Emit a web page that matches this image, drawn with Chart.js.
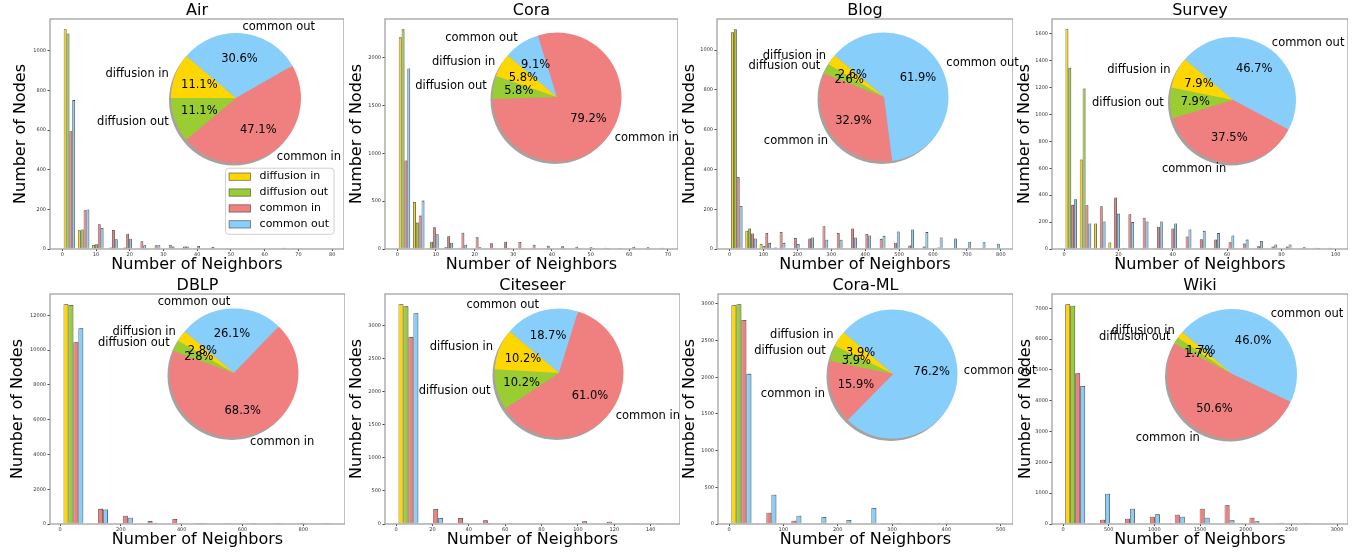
<!DOCTYPE html>
<html>
<head>
<meta charset="utf-8">
<title>Neighbor distributions</title>
<script src="https://cdn.jsdelivr.net/npm/chart.js@4/dist/chart.umd.min.js"></script>
<style>
  html, body { margin: 0; padding: 0; background: #fff; }
  #page { position: relative; width: 1369px; height: 554px; overflow: hidden; }
  .panel, .pie { position: absolute; }
</style>
</head>
<body>
<div id="page"></div>
<script>
// series order everywhere: diffusion in, diffusion out, common in, common out
var seriesNames = ["diffusion in", "diffusion out", "common in", "common out"];
var seriesColors = ["#FFD700", "#9ACD32", "#F08080", "#87CEFA"];

var airBins = [2.11, 6.32, 10.53, 14.74, 18.95, 23.16, 27.37, 31.58, 35.79, 40.00, 44.21, 48.42, 52.63, 56.84, 61.05, 65.26, 69.47, 73.68, 77.89];
var airDiffIn = [1108, 94, 20, 3, 2, 0, 0, 0, 0, 0, 0, 0, 0, 0, 0, 0, 0, 0, 0];
var airDiffOut = [1087, 98, 24, 7, 7, 1, 0, 0, 0, 0, 0, 0, 0, 0, 0, 0, 0, 0, 0];
var airCommonIn = [594, 195, 125, 96, 77, 39, 19, 22, 13, 15, 10, 5, 3, 3, 2, 6, 1, 0, 1];
var airCommonOut = [751, 199, 106, 49, 52, 19, 19, 12, 12, 3, 3, 2, 2, 1, 1, 1, 1, 0, 1];
var airShares = [11.1, 11.1, 47.1, 30.6];

var coraBins = [1.84, 5.53, 9.21, 12.89, 16.58, 20.26, 23.95, 27.63, 31.32, 35.00, 38.68, 42.37, 46.05, 49.74, 53.42, 57.11, 60.79, 64.47, 68.16];
var coraDiffIn = [2213, 492, 3, 0, 0, 0, 0, 0, 0, 0, 0, 0, 0, 0, 0, 0, 0, 0, 0];
var coraDiffOut = [2297, 276, 77, 17, 14, 3, 0, 0, 0, 0, 0, 0, 0, 0, 0, 0, 0, 0, 0];
var coraCommonIn = [925, 349, 227, 133, 171, 122, 59, 77, 73, 45, 35, 28, 24, 17, 14, 10, 24, 17, 14];
var coraCommonOut = [1888, 506, 154, 66, 45, 17, 3, 10, 3, 3, 2, 2, 1, 1, 1, 0, 0, 0, 0];
var coraShares = [5.8, 5.8, 79.2, 9.1];

var blogBins = [21.1, 63.2, 105.4, 147.6, 189.7, 231.9, 274.0, 316.2, 358.4, 400.5, 442.7, 484.8, 527.0, 569.2, 611.3, 653.5, 695.6, 737.8, 780.0];
var blogDiffIn = [1089, 92, 25, 7, 2, 1, 0, 0, 0, 0, 0, 0, 0, 0, 0, 0, 0, 0, 0];
var blogDiffOut = [1104, 103, 15, 3, 2, 1, 0, 0, 0, 0, 0, 0, 0, 0, 0, 0, 0, 0, 0];
var blogCommonIn = [362, 78, 81, 86, 56, 53, 114, 81, 103, 76, 51, 32, 17, 12, 7, 2, 5, 0, 0];
var blogCommonOut = [216, 53, 31, 31, 25, 58, 47, 47, 58, 68, 66, 88, 98, 85, 58, 53, 37, 34, 27];
var blogShares = [2.6, 2.6, 32.9, 61.9];

var surveyBins = [2.63, 7.89, 13.16, 18.42, 23.68, 28.95, 34.21, 39.47, 44.74, 50.00, 55.26, 60.53, 65.79, 71.05, 76.32, 81.58, 86.84, 92.11, 97.37];
var surveyDiffIn = [1633, 665, 190, 48, 8, 0, 0, 0, 0, 0, 0, 0, 0, 0, 0, 0, 0, 0, 0];
var surveyDiffOut = [1347, 1193, 0, 0, 0, 0, 0, 0, 0, 0, 0, 0, 0, 0, 0, 0, 0, 0, 0];
var surveyCommonIn = [328, 325, 318, 383, 258, 233, 165, 153, 93, 73, 70, 50, 40, 20, 18, 18, 5, 10, 10];
var surveyCommonOut = [370, 190, 205, 263, 200, 205, 205, 190, 145, 135, 118, 100, 70, 60, 33, 33, 13, 8, 3];
var surveyShares = [7.9, 7.9, 37.5, 46.7];

var dblpBins = [44.0, 125.3, 206.6, 287.9, 369.2, 450.5, 531.8, 613.1, 694.4, 775.7, 857.0];
var dblpDiffIn = [12632, 0, 0, 0, 0, 0, 0, 0, 0, 0, 0];
var dblpDiffOut = [12593, 0, 0, 0, 0, 0, 0, 0, 0, 0, 0];
var dblpCommonIn = [10450, 870, 478, 172, 290, 60, 40, 25, 15, 10, 10];
var dblpCommonOut = [11254, 830, 364, 77, 19, 5, 3, 2, 1, 1, 1];
var dblpShares = [2.8, 2.8, 68.3, 26.1];

var citeseerBins = [6.82, 20.45, 34.09, 47.73, 61.36, 75.00, 88.64, 102.27, 115.91, 129.55, 143.18];
var citeseerDiffIn = [3322, 3, 0, 0, 0, 0, 0, 0, 0, 0, 0];
var citeseerDiffOut = [3291, 15, 0, 0, 0, 0, 0, 0, 0, 0, 0];
var citeseerCommonIn = [2828, 226, 91, 55, 15, 3, 0, 40, 35, 10, 5];
var citeseerCommonOut = [3186, 91, 20, 15, 3, 0, 0, 0, 0, 0, 0];
var citeseerShares = [10.2, 10.2, 61.0, 18.7];

var coraMlBins = [22.7, 68.7, 114.7, 160.7, 206.7, 252.7, 298.7, 344.7, 390.7, 436.7, 482.7];
var coraMlDiffIn = [2982, 5, 0, 0, 0, 0, 0, 0, 0, 0, 0];
var coraMlDiffOut = [2996, 2, 0, 0, 0, 0, 0, 0, 0, 0, 0];
var coraMlCommonIn = [2783, 154, 45, 3, 0, 0, 0, 5, 0, 0, 0];
var coraMlCommonOut = [2047, 400, 113, 95, 55, 218, 14, 3, 1, 3, 0];
var coraMlShares = [3.9, 3.9, 15.9, 76.2];

var wikiBins = [133.0, 405.6, 678.2, 950.8, 1223.4, 1496.0, 1768.6, 2041.2, 2313.8, 2586.4, 2859.0];
var wikiDiffIn = [7130, 10, 0, 0, 0, 0, 0, 0, 0, 0, 0];
var wikiDiffOut = [7087, 20, 0, 0, 0, 0, 0, 0, 0, 0, 0];
var wikiCommonIn = [4894, 140, 173, 238, 302, 497, 605, 205, 5, 0, 0];
var wikiCommonOut = [4483, 983, 497, 313, 238, 205, 119, 86, 43, 30, 20];
var wikiShares = [1.7, 1.7, 50.6, 46.0];

var FONT = "'DejaVu Sans', sans-serif";
Chart.defaults.font.family = FONT;
Chart.defaults.color = "#000";

// layout of each subplot: axes box [left, top, right, bottom], axis limits, inset pie
var panels = [
  {title: "Air", bins: airBins, counts: [airDiffIn, airDiffOut, airCommonIn, airCommonOut], shares: airShares,
   xr: [-3.64, 83.5, 10], yr: [1160, 200], box: [50, 19, 344, 249], yPad: 5.1, pie: [236.3, 97.5, 65], legend: true},
  {title: "Cora", bins: coraBins, counts: [coraDiffIn, coraDiffOut, coraCommonIn, coraCommonOut], shares: coraShares,
   xr: [-3.19, 72.6, 10], yr: [2405, 500], box: [385, 19, 678, 249], yPad: 6.4, pie: [556.8, 96.7, 64.5]},
  {title: "Blog", bins: blogBins, counts: [blogDiffIn, blogDiffOut, blogCommonIn, blogCommonOut], shares: blogShares,
   xr: [-37.2, 836, 100], yr: [1156, 200], box: [717, 19, 1013, 249], yPad: 7.1, pie: [883.8, 97.2, 64.5]},
  {title: "Survey", bins: surveyBins, counts: [surveyDiffIn, surveyDiffOut, surveyCommonIn, surveyCommonOut], shares: surveyShares,
   xr: [-4.43, 104.5, 20], yr: [1709, 200], box: [1052, 19, 1348, 249], yPad: 7.4, pie: [1232.8, 99.5, 63]},
  {title: "DBLP", bins: dblpBins, counts: [dblpDiffIn, dblpDiffOut, dblpCommonIn, dblpCommonOut], shares: dblpShares,
   xr: [-32.9, 937, 200], yr: [13225, 2000], box: [50, 294, 345, 524], yPad: 2.7, pie: [234.2, 373.3, 64.5]},
  {title: "Citeseer", bins: citeseerBins, counts: [citeseerDiffIn, citeseerDiffOut, citeseerCommonIn, citeseerCommonOut], shares: citeseerShares,
   xr: [-6.05, 156.1, 20], yr: [3478, 500], box: [385, 294, 680, 524], yPad: 6.4, pie: [558.8, 372.5, 64.5]},
  {title: "Cora-ML", bins: coraMlBins, counts: [coraMlDiffIn, coraMlDiffOut, coraMlCommonIn, coraMlCommonOut], shares: coraMlShares,
   xr: [-20.3, 522.6, 100], yr: [3136, 500], box: [718, 294, 1013, 524], yPad: 6.4, pie: [892.8, 374, 64.5]},
  {title: "Wiki", bins: wikiBins, counts: [wikiDiffIn, wikiDiffOut, wikiCommonIn, wikiCommonOut], shares: wikiShares,
   xr: [-120.8, 3120, 500], yr: [7465, 1000], box: [1052, 294, 1348, 524], yPad: 7.9, pie: [1232.2, 373.7, 65]}
];

var Y_AXIS_W = 44, X_AXIS_H = 26, TOP_H = 19;

// soft grey drop shadow behind the bars, as in the original figure
var barShadowPlugin = {
  id: "barShadow",
  beforeDatasetsDraw: function (chart) {
    var ctx = chart.ctx;
    ctx.save();
    ctx.shadowColor = "rgba(0,0,0,0.22)";
    ctx.shadowOffsetX = 1.5;
    ctx.shadowOffsetY = -1.2;
    ctx.shadowBlur = 0;
  },
  afterDatasetsDraw: function (chart) {
    chart.ctx.restore();
  }
};

var framePlugin = {
  id: "frame",
  afterDatasetsDraw: function (chart) {
    var a = chart.chartArea, ctx = chart.ctx;
    ctx.save();
    ctx.strokeStyle = "#9a9a9a";
    ctx.lineWidth = 1.2;
    ctx.strokeRect(a.left, a.top, a.right - a.left, a.bottom - a.top);
    ctx.restore();
  }
};

var boxLegendPlugin = {
  id: "boxLegend",
  afterDraw: function (chart, args, opts) {
    if (!opts || !opts.show) return;
    var ctx = chart.ctx, a = chart.chartArea, sets = chart.data.datasets;
    var rowH = 15.9;
    ctx.save();
    ctx.font = "11px " + FONT;
    var tw = 0;
    sets.forEach(function (d) { tw = Math.max(tw, ctx.measureText(d.label).width); });
    var w = 34 + tw + 5, h = 18.4 + rowH * (sets.length - 1);
    var x0 = a.right - 10 - w, y0 = a.bottom - 14.7 - h;
    ctx.beginPath();
    ctx.roundRect(x0, y0, w, h, 3);
    ctx.fillStyle = "rgba(255,255,255,0.85)";
    ctx.fill();
    ctx.strokeStyle = "#d0d0d0";
    ctx.lineWidth = 1;
    ctx.stroke();
    sets.forEach(function (d, i) {
      var cy = y0 + 8.4 + i * rowH;
      ctx.fillStyle = d.backgroundColor;
      ctx.fillRect(x0 + 3.5, cy - 3.6, 21.5, 7.3);
      ctx.strokeStyle = "rgba(60,60,60,0.7)";
      ctx.lineWidth = 0.8;
      ctx.strokeRect(x0 + 3.5, cy - 3.6, 21.5, 7.3);
      ctx.fillStyle = "#000";
      ctx.textBaseline = "middle";
      ctx.textAlign = "left";
      ctx.fillText(d.label, x0 + 34, cy);
    });
    ctx.restore();
  }
};

var pieTextPlugin = {
  id: "pieText",
  beforeDatasetsDraw: function (chart) {
    var arc = chart.getDatasetMeta(0).data[0];
    if (!arc) return;
    var ctx = chart.ctx;
    ctx.save();
    ctx.fillStyle = "rgba(95,85,80,0.55)";
    ctx.beginPath();
    ctx.arc(arc.x - 2, arc.y + 2.5, arc.outerRadius, 0, 2 * Math.PI);
    ctx.fill();
    ctx.restore();
  },
  afterDatasetsDraw: function (chart) {
    var meta = chart.getDatasetMeta(0), ds = chart.data.datasets[0], ctx = chart.ctx;
    ctx.save();
    ctx.font = "11.5px " + FONT;
    ctx.fillStyle = "#000";
    ctx.textBaseline = "middle";
    meta.data.forEach(function (arc, i) {
      var mid = (arc.startAngle + arc.endAngle) / 2, r = arc.outerRadius;
      var c = Math.cos(mid), s = Math.sin(mid);
      ctx.textAlign = c > 0 ? "left" : "right";
      ctx.fillText(chart.data.labels[i], arc.x + c * r * 1.1, arc.y + s * r * 1.1);
      ctx.textAlign = "center";
      ctx.fillText(ds.data[i].toFixed(1) + "%", arc.x + c * r * 0.6, arc.y + s * r * 0.6);
    });
    ctx.restore();
  }
};

var page = document.getElementById("page");

function addCanvas(cls, left, top, width, height) {
  var wrap = document.createElement("div");
  wrap.className = cls;
  wrap.style.left = left + "px";
  wrap.style.top = top + "px";
  wrap.style.width = width + "px";
  wrap.style.height = height + "px";
  var cv = document.createElement("canvas");
  wrap.appendChild(cv);
  page.appendChild(wrap);
  return cv;
}

function tickFont() { return {family: FONT, size: 5}; }
function plainTick(v) { return String(v); }

// ticks every `step` inside the axis limits, like matplotlib's locator
function stepTicks(step) {
  return function (scale) {
    var out = [];
    var first = Math.ceil(scale.min / step);
    for (var k = first; k * step <= scale.max; k++) out.push({value: k * step});
    scale.ticks = out;
  };
}

function makeBars(p) {
  var L = p.box[0], T = p.box[1], R = p.box[2], B = p.box[3];
  var cv = addCanvas("panel", L - Y_AXIS_W, T - TOP_H, R - L + Y_AXIS_W, B - T + TOP_H + X_AXIS_H);
  new Chart(cv, {
    type: "bar",
    data: {
      datasets: p.counts.map(function (c, k) {
        return {
          label: seriesNames[k],
          data: p.bins.map(function (b, i) { return {x: b, y: c[i]}; }),
          backgroundColor: seriesColors[k],
          borderColor: "rgba(35,35,35,0.8)",
          borderWidth: 0.8,
          categoryPercentage: 0.8,
          barPercentage: 1.0,
          xAxisID: "x",
          yAxisID: "y"
        };
      })
    },
    options: {
      responsive: true,
      maintainAspectRatio: false,
      animation: false,
      events: [],
      layout: {padding: 0},
      plugins: {
        legend: {display: false},
        tooltip: {enabled: false},
        boxLegend: {show: !!p.legend}
      },
      scales: {
        x: {
          type: "linear", position: "bottom", offset: false,
          min: p.xr[0], max: p.xr[1],
          afterBuildTicks: stepTicks(p.xr[2]),
          afterFit: function (s) { s.height = X_AXIS_H; },
          ticks: {font: tickFont(), color: "#333", padding: 1, maxRotation: 0, autoSkip: false, callback: plainTick},
          grid: {offset: false, drawOnChartArea: false, tickLength: 2, color: "#444"},
          border: {display: false},
          title: {display: true, text: "Number of Neighbors", color: "#000",
                  font: {family: FONT, size: 16, lineHeight: 1.2}, padding: {top: 0, bottom: 0.4}}
        },
        xt: {
          type: "linear", position: "top", offset: false,
          afterFit: function (s) { s.height = TOP_H; },
          ticks: {display: false},
          grid: {display: false, offset: false},
          border: {display: false},
          title: {display: true, text: p.title, color: "#000",
                  font: {family: FONT, size: 16, lineHeight: 1.2}, padding: {top: 1.4, bottom: 0}}
        },
        y: {
          type: "linear", position: "left",
          min: 0, max: p.yr[0],
          afterBuildTicks: stepTicks(p.yr[1]),
          afterFit: function (s) { s.width = Y_AXIS_W; },
          ticks: {font: tickFont(), color: "#333", padding: 1.5, autoSkip: false, callback: plainTick},
          grid: {drawOnChartArea: false, tickLength: 2.5, color: "#444"},
          border: {display: false},
          title: {display: true, text: "Number of Nodes", color: "#000",
                  font: {family: FONT, size: 16, lineHeight: 1.2}, padding: {top: p.yPad, bottom: 0}}
        }
      }
    },
    plugins: [barShadowPlugin, framePlugin, boxLegendPlugin]
  });
}

// matplotlib draws the wedges counter-clockwise from 140 degrees;
// Chart.js goes clockwise, so the order is reversed
var pieOrder = [3, 2, 1, 0];

function makePie(p) {
  var cx = p.pie[0], cy = p.pie[1], r = p.pie[2];
  var cv = addCanvas("pie", cx - 160, cy - 100, 320, 200);
  new Chart(cv, {
    type: "pie",
    data: {
      labels: pieOrder.map(function (k) { return seriesNames[k]; }),
      datasets: [{
        data: pieOrder.map(function (k) { return p.shares[k]; }),
        backgroundColor: pieOrder.map(function (k) { return seriesColors[k]; }),
        borderWidth: 0
      }]
    },
    options: {
      responsive: true,
      maintainAspectRatio: false,
      animation: false,
      events: [],
      rotation: -50,
      radius: r,
      layout: {padding: 0},
      plugins: {legend: {display: false}, tooltip: {enabled: false}}
    },
    plugins: [pieTextPlugin]
  });
}

panels.forEach(makeBars);
panels.forEach(makePie);
</script>
</body>
</html>
